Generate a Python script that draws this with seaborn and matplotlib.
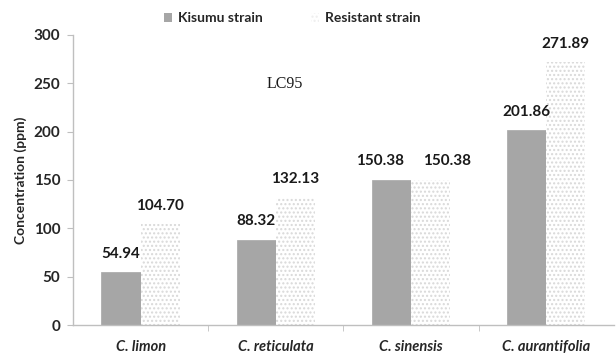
import matplotlib
matplotlib.use("Agg")
import matplotlib.pyplot as plt
import pandas as pd
import seaborn as sns

# ── Data ───────────────────────────────────────────────────────────────────────
SPECIES   = ["C. limon", "C. reticulata", "C. sinensis", "C. aurantifolia"]
KISUMU    = [54.94, 88.32, 150.38, 201.86]
RESISTANT = [104.70, 132.13, 150.38, 271.89]
STRAINS   = ["Kisumu strain", "Resistant strain"]

df = pd.DataFrame({
    "species": SPECIES * 2,
    "strain": [STRAINS[0]] * len(SPECIES) + [STRAINS[1]] * len(SPECIES),
    "value": KISUMU + RESISTANT,
})

sns.set_style("white")
plt.rcParams["font.family"] = ["Lato", "DejaVu Sans"]

fig = plt.figure(figsize=(6.16, 3.56), dpi=100)
ax = fig.add_axes([0.1185, 0.087, 0.878, 0.815])

sns.barplot(
    data=df, x="species", y="value", hue="strain",
    order=SPECIES, hue_order=STRAINS,
    palette=["#a6a6a6", "#ffffff"],
    width=0.58, gap=0, saturation=1,
    errorbar=None, ax=ax,
)

# stippled fill for the resistant bars
n = len(SPECIES)
for i, p in enumerate(ax.patches[:2 * n]):
    if i >= n:
        p.set_hatch("....")
        p.set_edgecolor("#d9d9d9")
        p.set_linewidth(0.0)
    else:
        p.set_edgecolor("#a6a6a6")
        p.set_linewidth(0.5)

# value labels (the equal sinensis pair is nudged apart, as in the original)
for k, cont in enumerate(ax.containers):
    texts = ax.bar_label(cont, fmt="%.2f", padding=8, fontsize=11,
                         fontweight="bold", color="#1a1a1a")
    if SPECIES.index("C. sinensis") < len(texts):
        t = texts[SPECIES.index("C. sinensis")]
        dx = -8 if k == 0 else 12
        t.set_position((dx, t.get_position()[1]))

ax.set_ylim(0, 300)
ax.set_yticks(range(0, 301, 50))
ax.set_xlim(-0.5, n - 0.5)
ax.set_xticks(range(n))
ax.set_xticks([i + 0.5 for i in range(n - 1)], minor=True)
ax.tick_params(axis="x", which="major", length=0, pad=11)
ax.tick_params(axis="x", which="minor", length=4, color="#bfbfbf", direction="out")
ax.tick_params(axis="y", length=4, color="#bfbfbf", direction="out", pad=5)
ax.xaxis.set_tick_params(bottom=True, which="minor")
ax.yaxis.set_tick_params(left=True)

for lab in ax.get_xticklabels():
    lab.set_fontstyle("italic")
    lab.set_fontweight("bold")
    lab.set_fontsize(10.5)
for lab in ax.get_yticklabels():
    lab.set_fontweight("bold")
    lab.set_fontsize(11)

ax.set_xlabel("")
ax.set_ylabel("Concentration (ppm)", fontsize=10, fontweight="bold", labelpad=5)

sns.despine(ax=ax)
for side in ("left", "bottom"):
    ax.spines[side].set_color("#bfbfbf")
    ax.spines[side].set_linewidth(1.0)

ax.text(1.07, 249, "LC95", fontsize=11.5, family="Liberation Serif",
        ha="center", va="center", color="#1a1a1a")

leg = ax.legend(loc="lower center", bbox_to_anchor=(0.405, 1.0), ncol=2,
                frameon=False, fontsize=10, handlelength=0.6, handleheight=0.6,
                columnspacing=3.5, handletextpad=0.4, borderaxespad=0.35)
for t in leg.get_texts():
    t.set_fontweight("bold")
for h in leg.legend_handles:
    h.set_linewidth(0)
leg.legend_handles[1].set_hatch("....")
leg.legend_handles[1].set_edgecolor("#eeeeee")

fig.savefig("out.png", dpi=100)
